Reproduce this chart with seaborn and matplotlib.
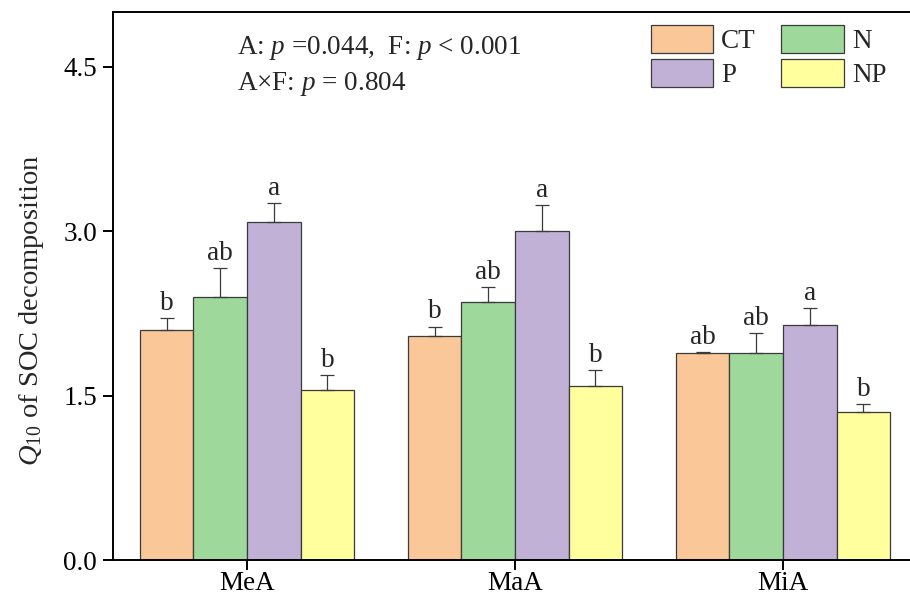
import matplotlib
matplotlib.use("Agg")
import matplotlib.pyplot as plt
import seaborn as sns
import pandas as pd

sns.set_theme(style="white")
plt.rcParams["font.family"] = ["Liberation Serif", "DejaVu Serif"]
plt.rcParams["mathtext.fontset"] = "custom"
plt.rcParams["mathtext.rm"] = "Liberation Serif"
plt.rcParams["mathtext.it"] = "Liberation Serif:italic"

# Aggregate-size classes and fertilisation treatments
classes = ["MeA", "MaA", "MiA"]
treatments = ["CT", "N", "P", "NP"]

# Mean Q10 per treatment, listed in class order (MeA, MaA, MiA)
q10_ct = [2.10, 2.04, 1.89]
q10_n = [2.40, 2.35, 1.89]
q10_p = [3.08, 3.00, 2.14]
q10_np = [1.55, 1.59, 1.35]

# Standard errors
se_ct = [0.11, 0.09, 0.01]
se_n = [0.26, 0.14, 0.18]
se_p = [0.18, 0.24, 0.16]
se_np = [0.14, 0.14, 0.07]

# Significance letters
sig_ct = ["b", "b", "ab"]
sig_n = ["ab", "ab", "ab"]
sig_p = ["a", "a", "a"]
sig_np = ["b", "b", "b"]

colors = ["#FAC898", "#9ED89B", "#C2B1D6", "#FFFF9E"]

means = [q10_ct, q10_n, q10_p, q10_np]
errs = [se_ct, se_n, se_p, se_np]
sigs = [sig_ct, sig_n, sig_p, sig_np]

rows = []
for t, m, e, s in zip(treatments, means, errs, sigs):
    for c, mv, ev, sv in zip(classes, m, e, s):
        rows.append({"Class": c, "Treatment": t, "Q10": mv, "SE": ev, "Sig": sv})
df = pd.DataFrame(rows)

W, H = 910, 599
fig = plt.figure(figsize=(W / 100, H / 100), dpi=100)
ax_w = 917 - 113
ax = fig.add_axes([113 / W, 39 / H, ax_w / W, 548 / H])

sns.barplot(data=df, x="Class", y="Q10", hue="Treatment", order=classes,
            hue_order=treatments, palette=colors, errorbar=None, width=0.8,
            edgecolor="#3a3a3a", linewidth=0.9, saturation=1, ax=ax, legend=False)

fs = 19.5
for container, t in zip(ax.containers, treatments):
    sub = df[df["Treatment"] == t].set_index("Class").loc[classes]
    xs = [p.get_x() + p.get_width() / 2 for p in container.patches]
    ax.errorbar(xs, sub["Q10"], yerr=[[0] * len(xs), sub["SE"]], fmt="none",
                ecolor="#3a3a3a", elinewidth=0.9, capsize=5, capthick=0.9, zorder=1)
    for x, top, lab in zip(xs, sub["Q10"] + sub["SE"], sub["Sig"]):
        ax.annotate(lab, (x, top), xytext=(0, 1.5), textcoords="offset points",
                    ha="center", va="bottom", fontsize=fs)

ax.set_xlim(-0.5, 2.5)
ax.set_ylim(0, 5.0)
ax.set_yticks([0.0, 1.5, 3.0, 4.5])
ax.set_yticklabels(["0.0", "1.5", "3.0", "4.5"])
ax.set_xlabel("")
ax.set_ylabel(r"$Q_{10}$ of SOC decomposition", fontsize=20.5)
ax.yaxis.set_label_coords((46 - 113) / ax_w, 0.455)

for side in ["left", "bottom", "top"]:
    ax.spines[side].set_visible(True)
    ax.spines[side].set_color("black")
    ax.spines[side].set_linewidth(1.4)
ax.spines["right"].set_visible(False)
ax.tick_params(axis="both", which="major", direction="out", length=7.5,
               width=1.4, color="black", labelsize=fs, labelcolor="black",
               bottom=True, left=True, pad=4)
ax.tick_params(axis="x", pad=0.5)

ax.text(237 / W, 1 - 54 / H, r"A: $p$ =0.044,  F: $p$ < 0.001",
        transform=fig.transFigure, fontsize=fs, ha="left", va="baseline")
ax.text(237 / W, 1 - 90 / H, r"A$\times$F: $p$ = 0.804",
        transform=fig.transFigure, fontsize=fs, ha="left", va="baseline")

# Legend laid out row-wise: CT, N / P, NP
handles = [ax.containers[i].patches[0] for i in range(4)]
order = [0, 2, 1, 3]
leg = fig.legend([handles[i] for i in order], [treatments[i] for i in order],
                 loc="upper left", bbox_to_anchor=(637 / W, 1 - 11 / H),
                 ncol=2, frameon=False, fontsize=fs, borderpad=0,
                 handlelength=2.3, handleheight=1.22, handletextpad=0.3,
                 columnspacing=0.95, labelspacing=0.2)

fig.savefig("out.png", dpi=100)
